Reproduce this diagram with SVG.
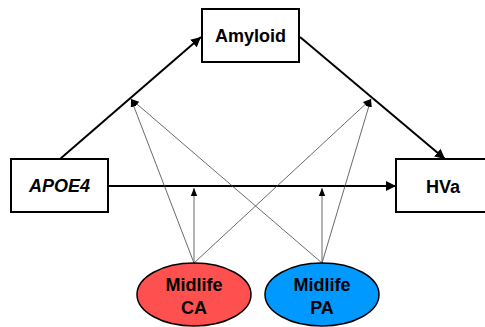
<svg xmlns="http://www.w3.org/2000/svg" width="485" height="327" viewBox="0 0 485 327">
<style>
.box{fill:#fff;stroke:#000;stroke-width:2}
.ell{stroke:#000;stroke-width:1.5}
.lbl{font-family:"Liberation Sans",Arial,sans-serif;font-weight:bold;font-size:18px;fill:#000;text-anchor:middle}
.thick{stroke:#000;stroke-width:2;fill:none}
.thin{stroke:#444;stroke-width:0.8;fill:none}
</style>
<defs>
<marker id="ah" viewBox="0 0 10 10" refX="10" refY="5" markerWidth="5" markerHeight="5" orient="auto" markerUnits="strokeWidth"><path d="M0,0 L10,5 L0,10 z" fill="#000"/></marker>
<marker id="ahs" viewBox="0 0 10 10" refX="10" refY="5" markerWidth="10" markerHeight="10" orient="auto" markerUnits="strokeWidth"><path d="M0,1 L10,5 L0,9 z" fill="#000"/></marker>
</defs>
<g id="connectors">
<line class="thick" x1="60" y1="159" x2="201" y2="37" marker-end="url(#ah)"/>
<line class="thick" x1="300" y1="37" x2="445" y2="159" marker-end="url(#ah)"/>
<line class="thick" x1="108" y1="186" x2="396" y2="186" marker-end="url(#ah)"/>
<line class="thin" x1="194" y1="263" x2="194" y2="188" marker-end="url(#ahs)"/>
<line class="thin" x1="322" y1="263" x2="322" y2="188" marker-end="url(#ahs)"/>
<line class="thin" x1="194" y1="263" x2="131" y2="99" marker-end="url(#ahs)"/>
<line class="thin" x1="322" y1="263" x2="131" y2="99" marker-end="url(#ahs)"/>
<line class="thin" x1="194" y1="263" x2="371" y2="99" marker-end="url(#ahs)"/>
<line class="thin" x1="322" y1="263" x2="371" y2="99" marker-end="url(#ahs)"/>
</g>
<g id="amyloid">
<rect class="box" x="202" y="9" width="97" height="53"/>
<text class="lbl" x="250.5" y="42">Amyloid</text>
</g>
<g id="apoe4">
<rect class="box" x="11" y="159" width="97" height="53"/>
<text class="lbl" x="59.5" y="192" font-style="italic">APOE4</text>
</g>
<g id="hva">
<rect class="box" x="396" y="159" width="97" height="53"/>
<text class="lbl" x="443" y="193">HVa</text>
</g>
<g id="midlife-ca">
<ellipse class="ell" cx="194" cy="294.5" rx="57" ry="31.5" fill="#FF5050"/>
<text class="lbl" x="194" y="291">Midlife</text>
<text class="lbl" x="194" y="314">CA</text>
</g>
<g id="midlife-pa">
<ellipse class="ell" cx="322" cy="294.5" rx="57" ry="31.5" fill="#0099FF"/>
<text class="lbl" x="322" y="291">Midlife</text>
<text class="lbl" x="322" y="314">PA</text>
</g>
</svg>
